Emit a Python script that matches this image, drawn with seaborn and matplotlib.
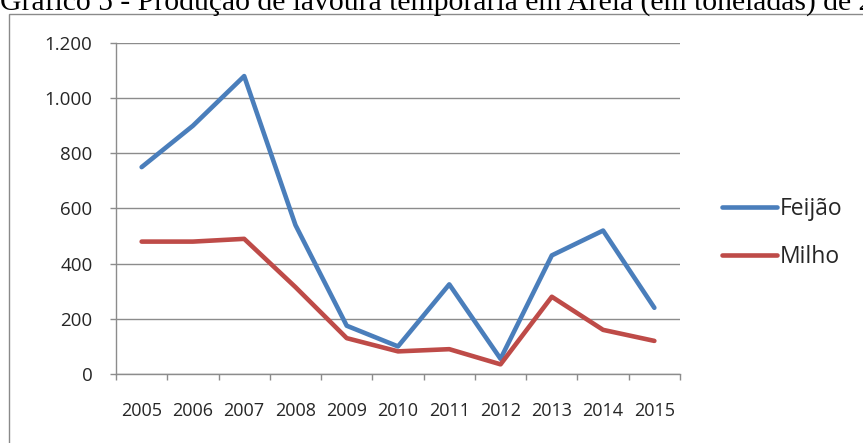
import matplotlib
matplotlib.use("Agg")
import matplotlib.pyplot as plt
import seaborn as sns
import pandas as pd
import numpy as np
from matplotlib.patches import Rectangle
from matplotlib.ticker import FixedLocator, FuncFormatter
from matplotlib.lines import Line2D

anos = ["2005", "2006", "2007", "2008", "2009", "2010", "2011", "2012", "2013", "2014", "2015"]
feijao = [750, 900, 1080, 540, 175, 100, 325, 55, 430, 520, 240]
milho = [480, 480, 490, 315, 130, 82, 90, 35, 280, 160, 120]
series = ["Feijão", "Milho"]
cores = ["#4A7EBB", "#BE4B48"]
titulo = "Gráfico 5 - Produção de lavoura temporária em Areia (em toneladas) de 2005 a 2015"

df = pd.DataFrame({
    "pos": list(range(len(anos))) * 2,
    "valor": feijao + milho,
    "serie": [series[0]] * len(anos) + [series[1]] * len(anos),
})

sns.set_style("white")
plt.rcParams["font.family"] = ["Open Sans", "DejaVu Sans"]

fig = plt.figure(figsize=(8.63, 4.43), dpi=100)
W, H = 863, 443

# outer chart border (extends beyond the image on right/bottom)
fig.patches.append(Rectangle((9 / W, -0.1), 1.2, (443 - 14) / H + 0.1,
                             transform=fig.transFigure, fill=False,
                             edgecolor="#8a8a8a", linewidth=1.0))
fig.text(0 / W, 1 - 10 / H, titulo, family="Liberation Serif", fontsize=21.3,
         ha="left", va="baseline", color="black")

ax = fig.add_axes([116 / W, 69 / H, (680 - 116) / W, (374 - 43) / H])
sns.lineplot(data=df, x="pos", y="valor", hue="serie", palette=cores,
             linewidth=3.3, ax=ax, legend=False, solid_capstyle="round")

ax.set_xlim(-0.5, len(anos) - 0.5)
ax.set_ylim(0, 1200)
ax.set_xlabel("")
ax.set_ylabel("")

yt = list(range(0, 1201, 200))
ax.yaxis.set_major_locator(FixedLocator(yt))
ax.yaxis.set_major_formatter(FuncFormatter(lambda v, p: f"{int(v):,}".replace(",", ".")))
ax.grid(axis="y", color="#8c8c8c", linewidth=1.0)
ax.grid(axis="x", visible=False)

ax.xaxis.set_major_locator(FixedLocator(np.arange(-0.5, len(anos), 1.0)))
ax.xaxis.set_major_formatter(FuncFormatter(lambda v, p: ""))
ax.xaxis.set_minor_locator(FixedLocator(np.arange(len(anos))))
ax.set_xticklabels(anos, minor=True)
ax.tick_params(axis="x", which="major", length=4, color="#8c8c8c", width=1, direction="out", bottom=True)
ax.tick_params(axis="x", which="minor", length=0, pad=20, labelsize=13)
ax.tick_params(axis="y", length=4, color="#8c8c8c", width=1, direction="out", left=True, labelsize=13.5, pad=13)

for s in ["top", "right"]:
    ax.spines[s].set_visible(False)
for s in ["left", "bottom"]:
    ax.spines[s].set_color("#8c8c8c")
    ax.spines[s].set_linewidth(1.0)
ax.set_axisbelow(True)

handles = [Line2D([0], [0], color=c, linewidth=3.3, solid_capstyle="round") for c in cores]
leg = fig.legend(handles, series, loc="center left", bbox_to_anchor=(701 / W, 1 - 233 / H),
                 frameon=False, fontsize=16.5, handlelength=2.4, handletextpad=0.13,
                 labelspacing=1.05)

fig.savefig("out.png", dpi=100)
